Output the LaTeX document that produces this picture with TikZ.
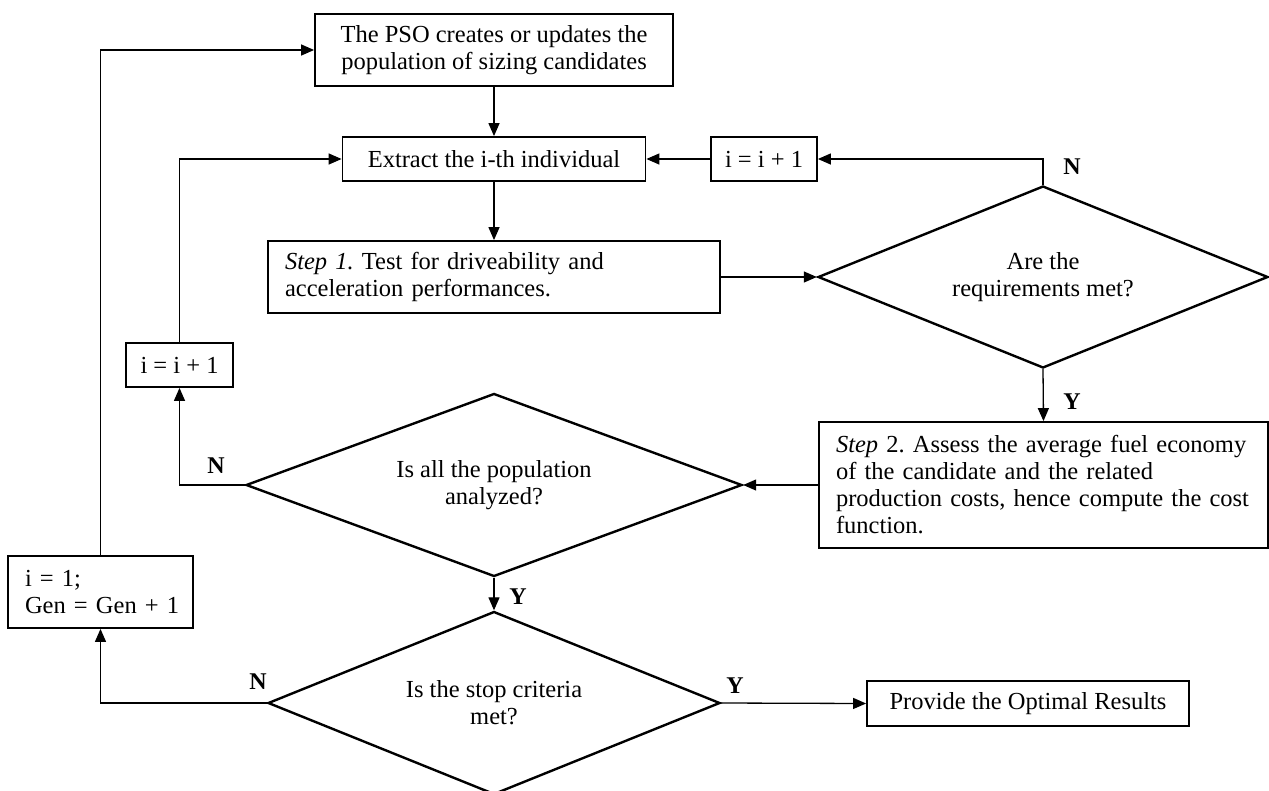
\documentclass[tikz,border=0pt]{standalone}
\usepackage{fontspec}
\setmainfont{Liberation Serif}
\frenchspacing
\usetikzlibrary{shapes.geometric,arrows.meta}
\begin{document}
\begin{tikzpicture}[x=1pt,y=-1pt,
  every node/.style={font=\fontsize{24.5pt}{27pt}\selectfont},
  box/.style={draw, line width=1.8pt, inner sep=0pt, align=center},
  lbox/.style={draw, line width=1.8pt, inner xsep=17pt, inner ysep=0pt, align=left},
  dia/.style={draw, diamond, line width=2.4pt, inner sep=0pt, align=center},
  arr/.style={line width=1.3pt, -{Triangle[length=13pt,width=11pt]}},
  lab/.style={font=\bfseries\fontsize{24pt}{26pt}\selectfont, inner sep=0pt}]
\useasboundingbox (0,0) rectangle (1269,790);
\clip (0,0) rectangle (1269,790);

\node[box, minimum width=358pt, minimum height=72pt] (pso) at (494,50) {The PSO creates or updates the\\population of sizing candidates};
\node[box, minimum width=303pt, minimum height=44pt] (ext) at (494,159) {Extract the i-th individual};
\node[box, minimum width=106pt, minimum height=44pt] (inc1) at (764,159) {i = i + 1};
\node[lbox, text width=418pt, minimum height=72pt] (s1) at (494,277) {\textit{Step 1.} Test for driveability and\\acceleration performances.};
\node[dia, minimum width=450pt, minimum height=182pt, shape aspect=2.47] (d1) at (1043,277) {Are the\\requirements met?};
\node[lbox, text width=415pt, minimum height=126pt] (s2) at (1043.5,485) {\textit{Step} 2. Assess the average fuel economy\\of the candidate and the related\\production costs, hence compute the cost\\function.};
\node[dia, minimum width=496pt, minimum height=183pt, shape aspect=2.71] (d2) at (494,485) {Is all the population\\analyzed?};
\node[box, minimum width=107pt, minimum height=44pt] (inc2) at (179.5,365) {i = i + 1};
\node[dia, minimum width=452pt, minimum height=183pt, shape aspect=2.47] (d3) at (494,703) {Is the stop criteria\\met?};
\node[lbox, text width=151pt, minimum height=72pt] (gen) at (100.5,592) {\mbox{i = 1;}\\\mbox{Gen = Gen + 1}};
\node[box, minimum width=322pt, minimum height=45pt] (res) at (1028,703.5) {Provide the Optimal Results};

\node[lab] (n1) at (1072,167) {N};
\node[lab] (y1) at (1072,402) {Y};
\node[lab] (n2) at (216,466) {N};
\node[lab] (y2) at (518,597) {Y};
\node[lab] (n3) at (258,682) {N};
\node[lab] (y3) at (735,686) {Y};

\draw[arr] (gen.north) |- (pso.west);
\draw[arr] (pso.south) -- (ext.north);
\draw[arr] (ext.south) -- (s1.north);
\draw[arr] (s1.east) -- (d1.west);
\draw[arr] (d1.north) |- (inc1.east);
\draw[arr] (inc1.west) -- (ext.east);
\draw[arr] (d1.south) -- (s2.north);
\draw[arr] (s2.west) -- (d2.east);
\draw[arr] (d2.west) -| (inc2.south);
\draw[arr] (inc2.north) |- (ext.west);
\draw[arr] (d2.south) -- (d3.north);
\draw[arr] (d3.west) -| (gen.south);
\draw[arr] (d3.east) -- (res.west);
\end{tikzpicture}
\end{document}
